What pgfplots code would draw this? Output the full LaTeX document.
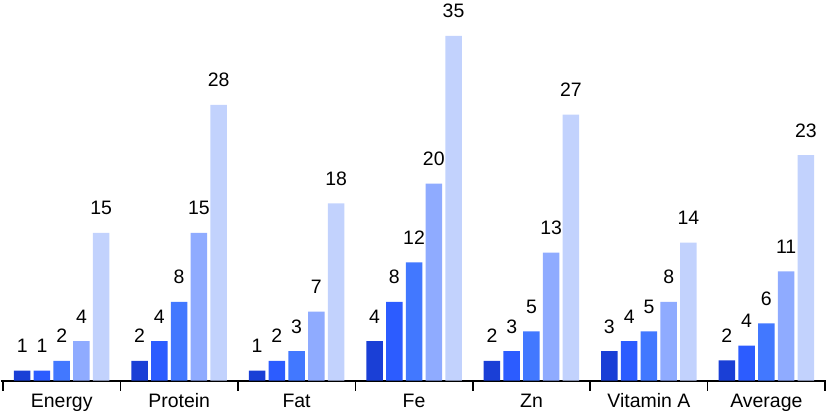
\documentclass[border=0pt]{standalone}
\usepackage{pgfplots}
\pgfplotsset{compat=1.18}
\usepackage{fontspec}
\setmainfont{Liberation Sans}
\definecolor{c1}{RGB}{26,63,214}
\definecolor{c2}{RGB}{44,92,255}
\definecolor{c3}{RGB}{66,120,255}
\definecolor{c4}{RGB}{143,171,255}
\definecolor{c5}{RGB}{194,210,253}
\begin{document}
\begin{tikzpicture}
\begin{axis}[
 width=827pt, height=381.5pt, scale only axis,
 xmin=-0.517, xmax=6.508, ymin=0, ymax=38.65,
 enlargelimits=false,
 axis x line*=bottom, axis y line=none,
 x axis line style={line width=2pt,-},
 xtick={0,...,6},
 xticklabels={Energy,Protein,Fat,Fe,Zn,Vitamin A,Average},
 minor xtick={-0.5,0.5,...,6.5},
 major tick length=0pt,
 minor tick length=10pt,
 tick align=inside,
 minor tick style={line width=1.5pt, black},
 xticklabel style={anchor=base, yshift=-27pt, inner sep=0pt, font=\fontsize{19.5}{22}\selectfont},
 ybar=3.3pt, bar width=16.5pt,
 point meta=explicit symbolic,
 nodes near coords,
 every node near coord/.append style={anchor=base, yshift=18pt, inner sep=0pt, font=\fontsize{19.5}{22}\selectfont, text=black},
]
\addplot[fill=c1, draw=none] coordinates {(0,1) [1] (1,2) [2] (2,1) [1] (3,4) [4] (4,2) [2] (5,3) [3] (6,2.05) [2]};
\addplot[fill=c2, draw=none] coordinates {(0,1) [1] (1,4) [4] (2,2) [2] (3,8) [8] (4,3) [3] (5,4) [4] (6,3.55) [4]};
\addplot[fill=c3, draw=none] coordinates {(0,2) [2] (1,8) [8] (2,3) [3] (3,12) [12] (4,5) [5] (5,5) [5] (6,5.8) [6]};
\addplot[fill=c4, draw=none] coordinates {(0,4) [4] (1,15) [15] (2,7) [7] (3,20) [20] (4,13) [13] (5,8) [8] (6,11.1) [11]};
\addplot[fill=c5, draw=none] coordinates {(0,15) [15] (1,28) [28] (2,18) [18] (3,35) [35] (4,27) [27] (5,14) [14] (6,22.9) [23]};
\path (rel axis cs:0,1) -- (rel axis cs:1,1);
\end{axis}
\end{tikzpicture}
\end{document}
